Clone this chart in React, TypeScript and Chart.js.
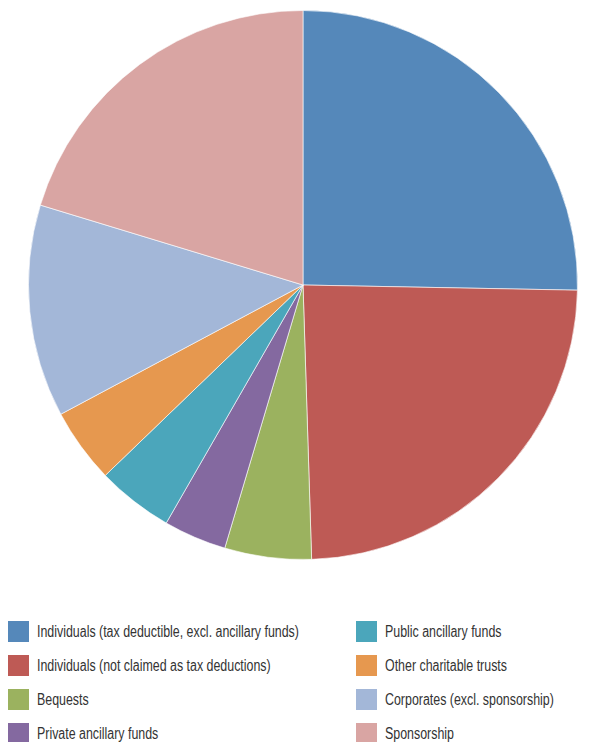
import React, { useEffect, useRef } from "react";
import { Chart, registerables } from "chart.js";

Chart.register(...registerables);

const labels = [
  "Individuals (tax deductible, excl. ancillary funds)",
  "Individuals (not claimed as tax deductions)",
  "Bequests",
  "Private ancillary funds",
  "Public ancillary funds",
  "Other charitable trusts",
  "Corporates (excl. sponsorship)",
  "Sponsorship",
];
const shares = [25.3, 24.2, 5.1, 3.7, 4.5, 4.4, 12.5, 20.3];
const colors = [
  "#5588BA",
  "#BE5A55",
  "#9BB25F",
  "#8469A0",
  "#4BA6BB",
  "#E6984F",
  "#A3B7D8",
  "#D9A5A3",
];

export default function App() {
  const ref = useRef<HTMLCanvasElement>(null);
  useEffect(() => {
    if (!ref.current) return;
    const chart = new Chart(ref.current, {
      type: "pie",
      data: {
        labels,
        datasets: [
          {
            data: shares,
            backgroundColor: colors,
            borderColor: "rgba(255,255,255,0.6)",
            borderWidth: 1,
          },
        ],
      },
      options: {
        responsive: false,
        animation: false,
        layout: { padding: { left: 20, right: 3, top: 2, bottom: 8 } },
        plugins: { legend: { display: false }, tooltip: { enabled: false } },
      },
    });
    return () => chart.destroy();
  }, []);

  const col = (start: number, left: number) =>
    labels.slice(start, start + 4).map((l, i) => (
      <div
        key={l}
        style={{
          position: "absolute",
          left,
          top: 613 + i * 34,
          display: "flex",
          alignItems: "center",
          height: 21,
        }}
      >
        <div style={{ width: 21, height: 21, background: colors[start + i], flex: "none" }} />
        <span
          style={{
            marginLeft: 8,
            fontFamily: "'Liberation Sans', Arial, sans-serif",
            fontSize: 16,
            color: "#333",
            whiteSpace: "nowrap",
            display: "inline-block",
            transform: "scaleX(0.775)",
            transformOrigin: "left center",
          }}
        >
          {l}
        </span>
      </div>
    ));

  return (
    <div style={{ position: "relative", width: 573, height: 734 }}>
      <canvas ref={ref} width={573} height={560} style={{ display: "block" }} />
      {col(0, 0)}
      {col(4, 348)}
    </div>
  );
}
